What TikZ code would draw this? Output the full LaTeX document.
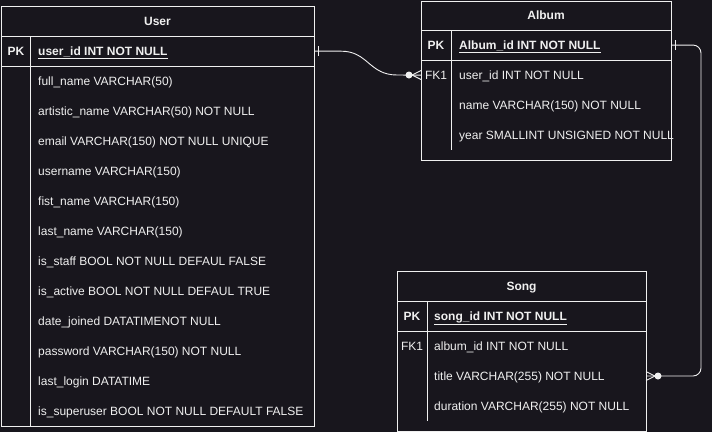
\documentclass[tikz,border=0pt]{standalone}
\usepackage{fontspec}
\setmainfont{Liberation Sans}
\usepackage{tikz}
\usetikzlibrary{positioning}
\definecolor{bgcol}{RGB}{24,22,29}
\definecolor{inkcol}{RGB}{240,240,240}

\tikzset{
	tbl/.style={draw=inkcol, line width=0.9pt, rectangle, inner sep=0, anchor=north west},
	rule/.style={draw=inkcol, line width=0.9pt},
	title/.style={text=inkcol, font=\fontsize{12}{14}\selectfont\bfseries, inner sep=0, anchor=base},
	keycell/.style={text=inkcol, font=\fontsize{12}{14}\selectfont\bfseries, inner sep=0, anchor=base},
	fkcell/.style={keycell, font=\fontsize{12}{14}\selectfont},
	field/.style={text=inkcol, font=\fontsize{12}{14}\selectfont, anchor=base west, inner sep=0},
	pkfield/.style={field, font=\fontsize{12}{14}\selectfont\bfseries},
	conn/.style={draw=inkcol, line width=0.9pt},
}

\begin{document}
\begin{tikzpicture}[x=1pt, y=-1pt]
		\fill [bgcol] (0,0) rectangle (712,432);
		\useasboundingbox (0,0) rectangle (712,432);

		% User
		\node [tbl, minimum width=313pt, minimum height=420pt] (user) at (1,6) {};
		\node [title] (userT) at (157.5,25.3) {User};
		\draw [rule] (1,36)--(314,36);
		\draw [rule] (1,66)--(314,66);
		\draw [rule] (30,36)--(30,426);
		\node [keycell] (userK) at (16,55.3) {PK};
		\node [pkfield] (userPK) at (38,55.3) {\underline{user\_id INT NOT NULL}};
		\foreach \t [count=\i] in {full\_name VARCHAR(50), artistic\_name VARCHAR(50) NOT NULL,
			email VARCHAR(150) NOT NULL UNIQUE, username VARCHAR(150), fist\_name VARCHAR(150),
			last\_name VARCHAR(150), is\_staff BOOL NOT NULL DEFAUL FALSE,
			is\_active BOOL NOT NULL DEFAUL TRUE, date\_joined DATATIMENOT NULL,
			password VARCHAR(150) NOT NULL, last\_login DATATIME,
			is\_superuser BOOL NOT NULL DEFAULT FALSE}{
			\node [field] (userF\i) at (38,55.3+30*\i) {\t};
		}

		% Album
		\node [tbl, minimum width=250pt, minimum height=159pt] (album) at (421,1) {};
		\node [title] (albumT) at (546,19.3) {Album};
		\draw [rule] (421,30)--(671,30);
		\draw [rule] (421,60)--(671,60);
		\draw [rule] (451,30)--(451,150);
		\node [keycell] (albumK) at (436,49.3) {PK};
		\node [fkcell] (albumFK) at (436,79.3) {FK1};
		\node [pkfield] (albumPK) at (459,49.3) {\underline{Album\_id INT NOT NULL}};
		\foreach \t [count=\i] in {user\_id INT NOT NULL, name VARCHAR(150) NOT NULL,
			year SMALLINT UNSIGNED NOT NULL}{
			\node [field] (albumF\i) at (459,49.3+30*\i) {\t};
		}

		% Song
		\node [tbl, minimum width=249pt, minimum height=160pt] (song) at (397,271) {};
		\node [title] (songT) at (521.5,290.3) {Song};
		\draw [rule] (397,301)--(646,301);
		\draw [rule] (397,331)--(646,331);
		\draw [rule] (427,301)--(427,421);
		\node [keycell] (songK) at (412,320.3) {PK};
		\node [fkcell] (songFK) at (412,350.3) {FK1};
		\node [pkfield] (songPK) at (434,320.3) {\underline{song\_id INT NOT NULL}};
		\foreach \t [count=\i] in {album\_id INT NOT NULL, title VARCHAR(255) NOT NULL,
			duration VARCHAR(255) NOT NULL}{
			\node [field] (songF\i) at (434,320.3+30*\i) {\t};
		}
		\coordinate (songIn) at (song.east |- 0,376);

		% User 1 -- 0..n Album
		\draw [conn] (user.east |- userK) -- +(26,0) .. controls (368,51) and (369,75) .. (397,75) -- (album.west |- albumFK);
		\draw [conn] (318,46)--(318,56);
		\fill [inkcol] (409,75) circle (3.5pt);
		\draw [conn] (412,75)--(421,70.5);
		\draw [conn] (412,75)--(421,79.5);

		% Album 1 -- 0..n Song
		\draw [conn, rounded corners=8pt] (album.east |- albumK) -- (701,45) -- (701,376) -- (songIn);
		\draw [conn] (675,40)--(675,50);
		\fill [inkcol] (658,376) circle (3.5pt);
		\draw [conn] (655,376)--(646,371.5);
		\draw [conn] (655,376)--(646,380.5);
\end{tikzpicture}
\end{document}
